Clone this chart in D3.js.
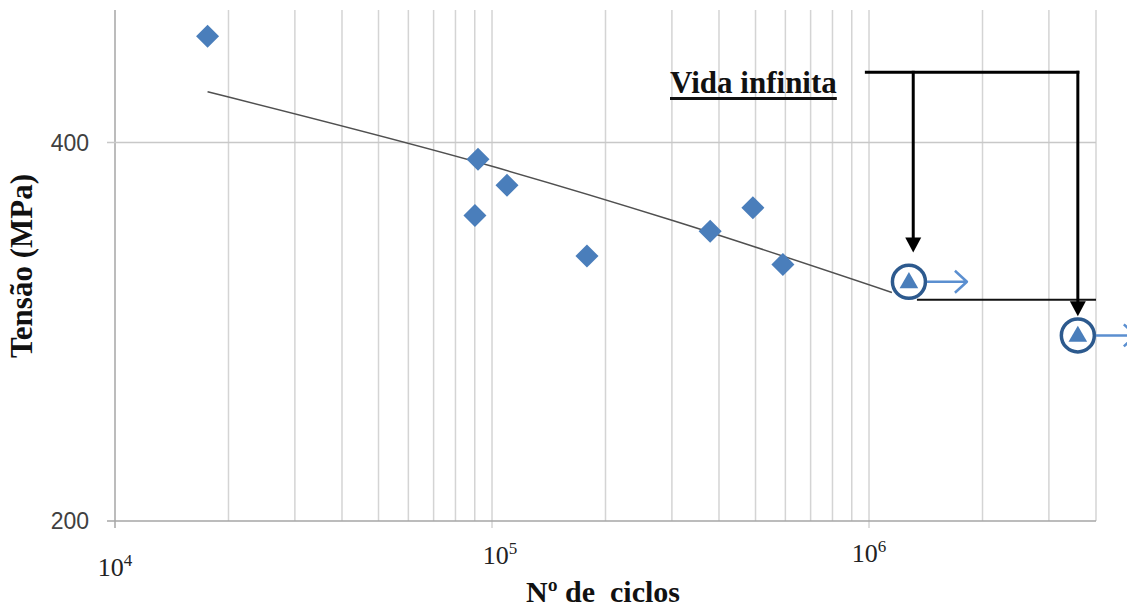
<!DOCTYPE html>
<html>
<head>
<meta charset="utf-8">
<script src="https://cdn.jsdelivr.net/npm/d3@7"></script>
<style>
  body { margin: 0; background: #fff; }
  svg { display: block; }
</style>
</head>
<body>
<svg id="chart" width="1127" height="611"></svg>
<script>
/* S-N curve: tensão x nº de ciclos */

const cycles = [17600, 91800, 90100, 109600, 178600, 379000, 492000, 591000];
const stress = [486, 388, 350, 370, 325, 340, 355, 320];

// run-outs (no failure)
const runoutCycles = [1276000, 3580000];
const runoutStress = [310, 281];

// trend line
const trendCycles = [17600, 100000, 300000, 1150000];
const trendStress = [439, 383, 347, 304];

// fatigue limit
const limitCycles = [1340000, 4000000];
const limitStress = 300;

// "Vida infinita" bracket
const bracketStart = 975000;
const bracketStress = 455;
const arrowCycles = [1310000, 3580000];
const arrowTipStress = [327, 291];

const xTicks = [1e4, 1e5, 1e6];
const xTickExp = ['4', '5', '6'];
const yTicks = [200, 400];

const svg = d3.select('#chart');

const x = d3.scaleLog().domain([1e4, 4e6]).range([115, 1096]);
const y = d3.scaleLog().base(2).domain([200, 510]).range([521, 10]);

const grid = svg.append('g');

// vertical grid (major + minor)
grid.selectAll('line.v').data(x.ticks()).join('line')
  .attr('x1', d => x(d)).attr('x2', d => x(d))
  .attr('y1', y(510)).attr('y2', d => xTicks.includes(d) ? y(200) + 7 : y(200))
  .attr('stroke', d => d === 1e4 ? '#a6a6a6' : '#d4d4d4')
  .attr('stroke-width', 1.5);

// horizontal grid
grid.selectAll('line.h').data(yTicks).join('line')
  .attr('x1', x(1e4) - 8).attr('x2', x(4e6))
  .attr('y1', d => y(d)).attr('y2', d => y(d))
  .attr('stroke', d => d === 200 ? '#a6a6a6' : '#c8c8c8')
  .attr('stroke-width', 1.5);

// y tick labels
svg.append('g').selectAll('text').data(yTicks).join('text')
  .attr('x', 89).attr('y', d => y(d) + 8)
  .attr('text-anchor', 'end')
  .attr('font-family', 'Liberation Sans, Arial, sans-serif')
  .attr('font-size', 23)
  .attr('fill', '#404040')
  .text(d => d);

// x tick labels (10^n), slightly staggered like the original
const labelShift = [[0, 576], [8, 564], [0, 562]];
const xl = svg.append('g').selectAll('text').data(xTicks).join('text')
  .attr('x', (d, i) => x(d) + labelShift[i][0])
  .attr('y', (d, i) => labelShift[i][1])
  .attr('text-anchor', 'middle')
  .attr('font-family', 'Liberation Serif, serif')
  .attr('font-size', 26)
  .attr('fill', '#222');
xl.append('tspan').text('10');
xl.append('tspan').attr('font-size', 17).attr('dy', -10).text((d, i) => xTickExp[i]);

// trend line
const pts = trendCycles.map((c, i) => [c, trendStress[i]]);
svg.append('path')
  .datum(pts)
  .attr('fill', 'none')
  .attr('stroke', '#505050')
  .attr('stroke-width', 1.5)
  .attr('d', d3.line().x(d => x(d[0])).y(d => y(d[1])).curve(d3.curveMonotoneX));

// fatigue limit line
svg.append('line')
  .attr('x1', x(limitCycles[0])).attr('x2', x(limitCycles[1]))
  .attr('y1', y(limitStress)).attr('y2', y(limitStress))
  .attr('stroke', '#111').attr('stroke-width', 2);

// data points
const diamond = d3.symbol().type(d3.symbolSquare).size(265);
svg.append('g').selectAll('path').data(cycles).join('path')
  .attr('d', diamond)
  .attr('transform', (d, i) => `translate(${x(d)},${y(stress[i])}) rotate(45)`)
  .attr('fill', '#4a7ebb');

// run-outs: circle + triangle + arrow
const ro = svg.append('g').selectAll('g').data(runoutCycles).join('g')
  .attr('transform', (d, i) => `translate(${x(d)},${y(runoutStress[i])})`);
ro.append('circle').attr('r', 16.5)
  .attr('fill', '#fff').attr('stroke', '#2d5a8e').attr('stroke-width', 3.5);
ro.append('path')
  .attr('d', d3.symbol().type(d3.symbolTriangle).size(150))
  .attr('transform', 'translate(0,1)')
  .attr('fill', '#4a7ebb');
ro.append('path')
  .attr('d', 'M18,0H58M46,-11L58,0L46,11')
  .attr('fill', 'none').attr('stroke', '#5b8fd0').attr('stroke-width', 2.5)
  .attr('stroke-linejoin', 'round');

// bracket and arrows
const br = svg.append('g');
br.append('line')
  .attr('x1', x(bracketStart)).attr('x2', x(arrowCycles[1]) + 1.5)
  .attr('y1', y(bracketStress)).attr('y2', y(bracketStress))
  .attr('stroke', '#000').attr('stroke-width', 3);
arrowCycles.forEach((c, i) => {
  const ax = x(c), tip = y(arrowTipStress[i]);
  br.append('line')
    .attr('x1', ax).attr('x2', ax)
    .attr('y1', y(bracketStress) - 1.5).attr('y2', tip - 10)
    .attr('stroke', '#000').attr('stroke-width', 3);
  br.append('path')
    .attr('d', `M${ax - 8},${tip - 15}L${ax + 8},${tip - 15}L${ax},${tip}Z`)
    .attr('fill', '#000');
});

// annotation text
const ann = svg.append('text')
  .attr('x', 670).attr('y', 93)
  .attr('font-family', 'Liberation Serif, Times New Roman, serif')
  .attr('font-weight', 'bold')
  .attr('font-size', 31)
  .attr('fill', '#111')
  .text('Vida infinita');
const annW = ann.node().getComputedTextLength();
svg.append('line')
  .attr('x1', 670).attr('x2', 670 + annW)
  .attr('y1', 98.5).attr('y2', 98.5)
  .attr('stroke', '#111').attr('stroke-width', 3);

// axis titles
svg.append('text')
  .attr('x', 603).attr('y', 602)
  .attr('text-anchor', 'middle')
  .attr('font-family', 'Liberation Serif, Times New Roman, serif')
  .attr('font-weight', 'bold')
  .attr('font-size', 30)
  .attr('fill', '#111')
  .style('white-space', 'pre')
  .text('Nº de  ciclos');

svg.append('text')
  .attr('transform', 'translate(32,266) rotate(-90)')
  .attr('text-anchor', 'middle')
  .attr('font-family', 'Liberation Serif, Times New Roman, serif')
  .attr('font-weight', 'bold')
  .attr('font-size', 31)
  .attr('fill', '#111')
  .text('Tensão (MPa)');
</script>
</body>
</html>
